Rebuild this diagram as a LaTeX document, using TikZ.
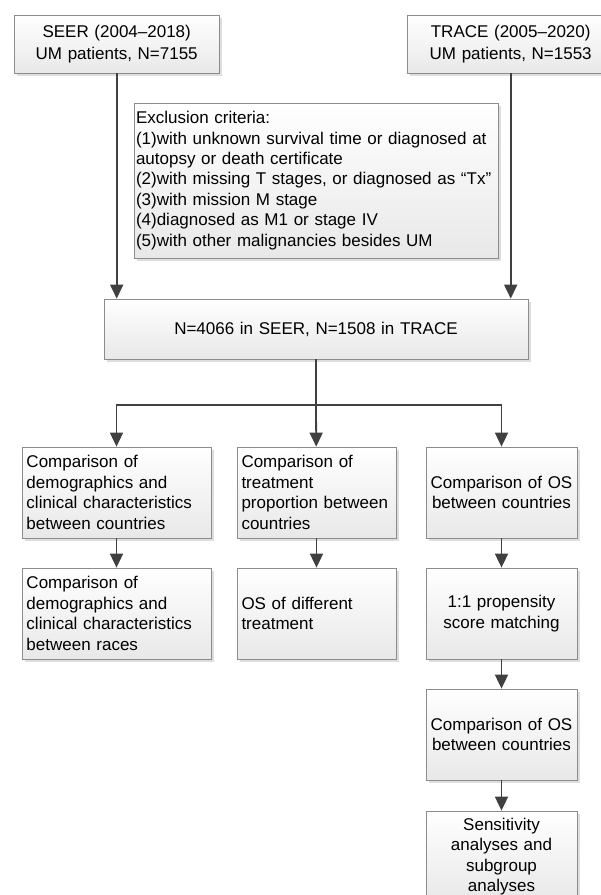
\documentclass[tikz,border=0pt]{standalone}
\usepackage{fontspec}
\setmainfont{Liberation Sans}
\usetikzlibrary{arrows.meta,shadows}

\begin{document}
\begin{tikzpicture}[x=1pt,y=-1pt,
  box/.style={draw=black!45,line width=0.8pt,top color=white,bottom color=black!9,
    drop shadow={shadow xshift=2.5pt,shadow yshift=-2.5pt,fill=black!13,opacity=1},
    inner xsep=4.5pt,inner ysep=0pt,font=\fontsize{17}{20.4}\selectfont},
  lbox/.style={box,align=left},
  cbox/.style={box,align=center},
  link/.style={draw=black!75,line width=1.8pt},
  arr/.style={link,-{Triangle[length=14pt,width=13pt]}}]
  \useasboundingbox (0,0) rectangle (601,895);
  % Sources
  \node[cbox,text width=196pt,minimum height=58pt,font=\fontsize{17}{21.6}\selectfont] (seer) at (116.7,44) {SEER (2004–2018)\\UM patients, N=7155};
  \node[cbox,text width=198pt,minimum height=58pt,font=\fontsize{17}{21.6}\selectfont] (trace) at (510.7,44) {TRACE (2005–2020)\\UM patients, N=1553};
  % Exclusion criteria and pooled cohort
  \node[lbox,text width=360pt,inner xsep=2pt,minimum height=155pt] (excl) at (316,180.5) {Exclusion criteria:\\
    (1)with unknown survival time or diagnosed at\\
    autopsy or death certificate\\
    (2)with missing T stages, or diagnosed as “Tx”\\
    (3)with mission M stage\\
    (4)diagnosed as M1 or stage IV\\
    (5)with other malignancies besides UM};
  \node[cbox,text width=415pt,minimum height=60pt] (pool) at (316,329) {N=4066 in SEER, N=1508 in TRACE};
  % Column 1: characteristics
  \node[lbox,text width=180pt,minimum height=91pt] (char1) at (116.5,492.5) {Comparison of\\demographics and\\clinical characteristics\\between countries};
  \node[lbox,text width=180pt,minimum height=91pt] (char2) at (116.5,613.5) {Comparison of\\demographics and\\clinical characteristics\\between races};
  % Column 2: treatment
  \node[lbox,text width=150pt,minimum height=91pt] (treat1) at (316.5,492.5) {Comparison of\\treatment\\proportion between\\countries};
  \node[lbox,text width=150pt,minimum height=91pt] (treat2) at (316.5,613.5) {OS of different\\treatment};
  % Column 3: survival
  \node[cbox,text width=142pt,minimum height=91pt] (os1) at (501.5,492.5) {Comparison of OS\\between countries};
  \node[cbox,text width=142pt,minimum height=91pt] (psm) at (501.5,613.5) {1:1 propensity\\score matching};
  \node[cbox,text width=142pt,minimum height=91pt] (os2) at (501.5,734.5) {Comparison of OS\\between countries};
  \node[cbox,text width=142pt,minimum height=91pt] (sens) at (501.5,856.5) {Sensitivity\\analyses and\\subgroup\\analyses};
  % Connectors
  \draw[arr] (seer) -- (seer |- pool.north);
  \draw[arr] (trace) -- (trace |- pool.north);
  \coordinate (split) at (316,405);
  \draw[link] (pool) -- (split);
  \draw[arr] (os1 |- split) -- (char1 |- split) -- (char1);
  \draw[arr] (split) -- (treat1);
  \draw[arr] (os1 |- split) -- (os1);
  \draw[arr] (char1) -- (char2);
  \draw[arr] (treat1) -- (treat2);
  \draw[arr] (os1) -- (psm);
  \draw[arr] (psm) -- (os2);
  \draw[arr] (os2) -- (sens);
\end{tikzpicture}
\end{document}
